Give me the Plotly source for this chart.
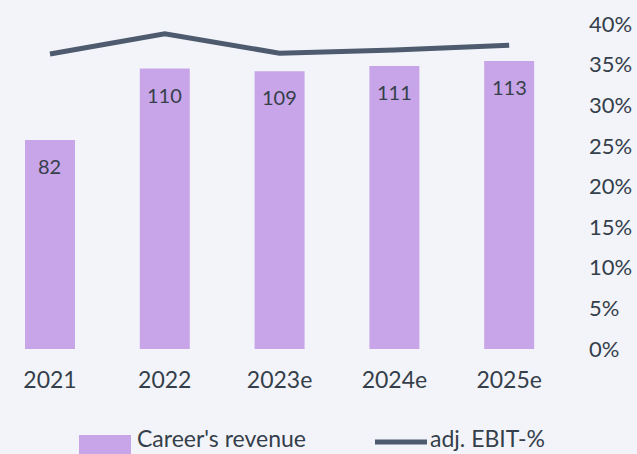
import plotly.graph_objects as go

years = ["2021", "2022", "2023e", "2024e", "2025e"]
revenue = [82, 110, 109, 111, 113]
ebit_pct = [36.3, 38.8, 36.4, 36.8, 37.4]
bar_name = "Career's revenue"
line_name = "adj. EBIT-%"

BG = "#f3f4f9"
BAR = "#c8a5e8"
LINE = "#4e5a6e"
TXT = "#353f4b"
FONT = "Lato, 'Open Sans', sans-serif"

W, H = 637, 454
ML, MR, MT, MB = 0, 71, 24, 105
PW = W - ML - MR
PH = H - MT - MB

def px(x):
    return (x - ML) / PW

def py(y):
    return (H - MB - y) / PH

fig = go.Figure()
fig.add_trace(go.Bar(
    x=years, y=revenue, name=bar_name, marker=dict(color=BAR, line=dict(width=0)),
    width=0.4355, yaxis="y", showlegend=False, hoverinfo="skip",
))
fig.add_trace(go.Scatter(
    x=years, y=ebit_pct, name=line_name, mode="lines",
    line=dict(color=LINE, width=5), yaxis="y2", showlegend=False,
))

annotations = []
for i, v in enumerate(revenue):
    annotations.append(dict(
        x=i, y=v, xref="x", yref="y", text=str(v), showarrow=False,
        yanchor="top", yshift=-12, font=dict(size=20, color=TXT, family=FONT),
    ))

# custom legend
annotations.append(dict(x=px(136), y=py(438), xref="paper", yref="paper", text=bar_name,
                        showarrow=False, xanchor="left", yanchor="middle", borderpad=0,
                        font=dict(size=23, color=TXT, family=FONT)))
annotations.append(dict(x=px(429), y=py(438), xref="paper", yref="paper", text=line_name,
                        showarrow=False, xanchor="left", yanchor="middle", borderpad=0,
                        font=dict(size=23, color=TXT, family=FONT)))
shapes = [
    dict(type="rect", xref="paper", yref="paper", x0=px(79), x1=px(131), y0=py(435), y1=py(460),
         fillcolor=BAR, line=dict(width=0)),
    dict(type="line", xref="paper", yref="paper", x0=px(375), x1=px(427), y0=py(442), y1=py(442),
         line=dict(color=LINE, width=5)),
]

fig.update_layout(
    width=W, height=H,
    margin=dict(l=ML, r=MR, t=MT, b=MB),
    paper_bgcolor=BG, plot_bgcolor=BG,
    font=dict(family=FONT, color=TXT, size=21),
    bargap=0.5645,
    xaxis=dict(type="category", range=[-0.4355, 4.495], showgrid=False, zeroline=False,
               showline=False, ticks="", tickfont=dict(size=23, color=TXT), ticklabelstandoff=15),
    yaxis=dict(range=[0, 127.5], visible=False, fixedrange=True),
    yaxis2=dict(range=[0, 40], overlaying="y", side="right", dtick=5, ticksuffix="%",
                showgrid=False, zeroline=False, showline=False, ticks="",
                tickfont=dict(size=22, color=TXT), ticklabelstandoff=22),
    annotations=annotations,
    shapes=shapes,
    showlegend=False,
)

fig.write_html("out.html", config={"displayModeBar": False},
               post_script="document.body.style.margin='0';document.body.style.background='%s';" % BG)
